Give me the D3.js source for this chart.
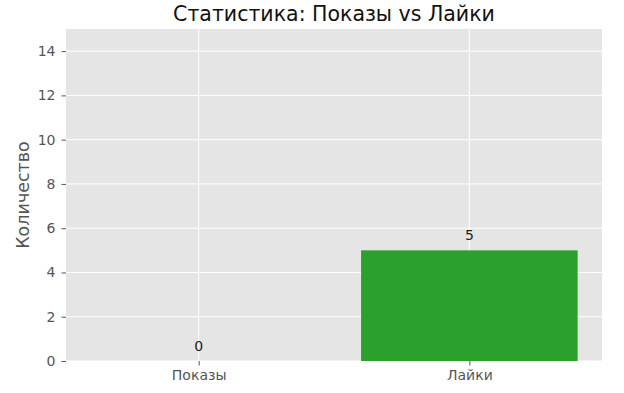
<!DOCTYPE html>
<html><head><meta charset="utf-8">
<script src="https://cdn.jsdelivr.net/npm/d3@7"></script>
<style>body{margin:0;background:#fff}svg{display:block}text{font-family:"DejaVu Sans",sans-serif}</style>
</head><body>
<script>
const categories = ["Показы", "Лайки"];
const values = [0, 5];
const colors = ["#1f77b4", "#2ca02c"];
const yTicks = [0, 2, 4, 6, 8, 10, 12, 14];
const title = "Статистика: Показы vs Лайки";
const yLabel = "Количество";

const W = 624, H = 393;
const m = {l: 66, r: 22, t: 29, b: 32};
const svg = d3.select("body").append("svg").attr("width", W).attr("height", H);

const x = d3.scaleLinear().domain([-0.49, 1.49]).range([m.l, W - m.r]);
const y = d3.scaleLinear().domain([0, 15]).range([H - m.b, m.t]);

svg.append("rect").attr("x", m.l).attr("y", m.t)
  .attr("width", W - m.r - m.l).attr("height", H - m.b - m.t).attr("fill", "#e5e5e5");

// grid
svg.append("g").selectAll("line").data(yTicks).join("line")
  .attr("x1", m.l).attr("x2", W - m.r).attr("y1", d => y(d)).attr("y2", d => y(d))
  .attr("stroke", "#fff").attr("stroke-width", 1);
svg.append("g").selectAll("line").data(categories).join("line")
  .attr("x1", (d, i) => x(i)).attr("x2", (d, i) => x(i)).attr("y1", m.t).attr("y2", H - m.b)
  .attr("stroke", "#fff").attr("stroke-width", 1);

// bars
svg.append("g").selectAll("rect").data(values).join("rect")
  .attr("x", (d, i) => x(i - 0.4)).attr("width", x(0.4) - x(-0.4))
  .attr("y", d => y(d)).attr("height", d => y(0) - y(d))
  .attr("fill", (d, i) => colors[i]);

// value labels
svg.append("g").selectAll("text").data(values).join("text")
  .attr("x", (d, i) => x(i)).attr("y", d => y(d + 0.5) + 1)
  .attr("text-anchor", "middle").attr("font-size", 14).attr("fill", "#222")
  .text(d => d);

// y axis
const ya = d3.axisLeft(y).tickValues(yTicks).tickSize(4.5).tickPadding(6);
const gy = svg.append("g").attr("transform", `translate(${m.l},0)`).call(ya);
gy.select(".domain").remove();
gy.selectAll("line").attr("stroke", "#555");
gy.selectAll("text").attr("font-size", 14).attr("fill", "#555").attr("font-family", "DejaVu Sans");

// x axis
const xa = d3.axisBottom(x).tickValues([0, 1]).tickFormat(i => categories[i]).tickSize(4.5).tickPadding(5);
const gx = svg.append("g").attr("transform", `translate(0,${H - m.b})`).call(xa);
gx.select(".domain").remove();
gx.selectAll("line").attr("stroke", "#555");
gx.selectAll("text").attr("font-size", 14).attr("fill", "#555").attr("font-family", "DejaVu Sans");

// title
svg.append("text").attr("x", (m.l + W - m.r) / 2).attr("y", 21)
  .attr("text-anchor", "middle").attr("font-size", 20.5).attr("fill", "#111").text(title);

// y label
svg.append("text").attr("transform", `translate(29,${(m.t + H - m.b) / 2}) rotate(-90)`)
  .attr("text-anchor", "middle").attr("font-size", 17.5).attr("fill", "#555").text(yLabel);
</script>
</body></html>
